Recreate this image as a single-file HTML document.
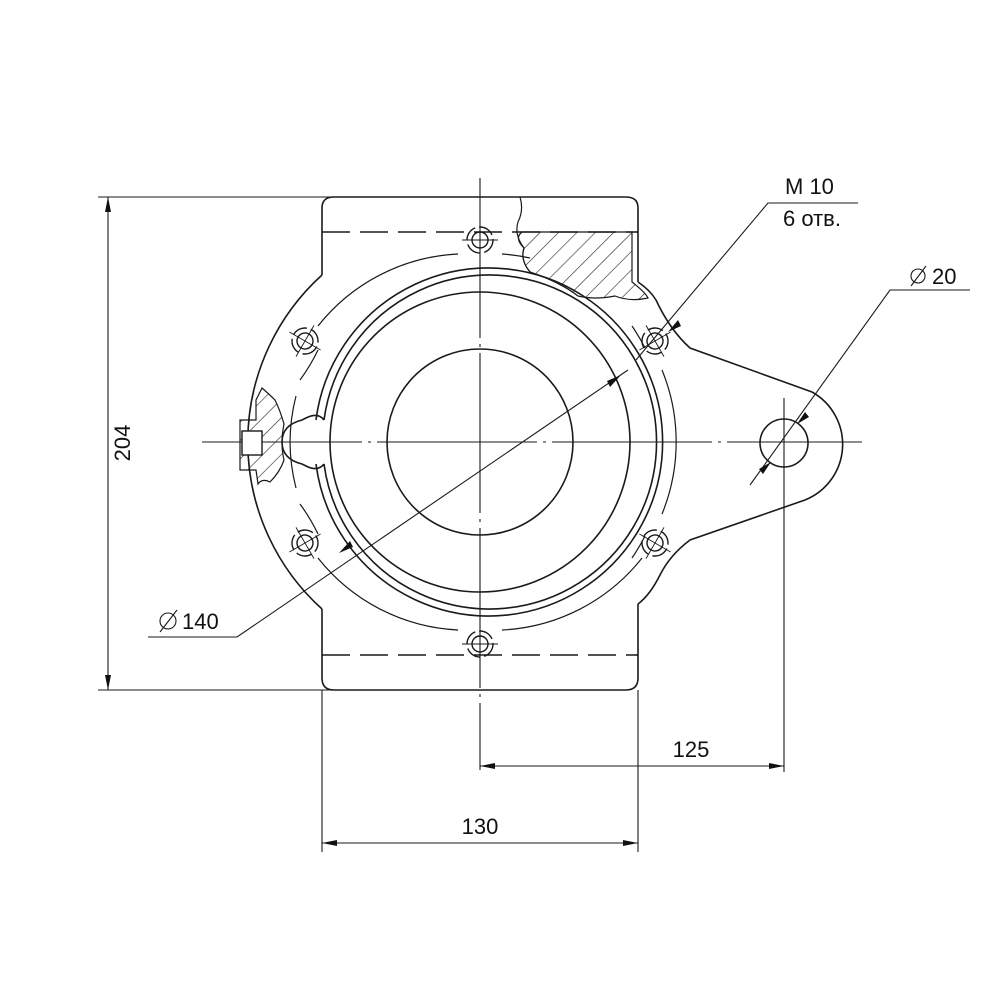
<!DOCTYPE html>
<html><head><meta charset="utf-8"><style>
html,body{margin:0;padding:0;background:#fff}
svg{display:block}
text{font-family:"Liberation Sans",sans-serif;fill:#111}
</style></head><body>
<svg width="1000" height="1000" viewBox="0 0 1000 1000" xmlns="http://www.w3.org/2000/svg">
<defs>
<pattern id="h" patternUnits="userSpaceOnUse" width="13" height="13" patternTransform="rotate(45)">
<line x1="0" y1="0" x2="0" y2="13" stroke="#222" stroke-width="1.2"/>
</pattern>
</defs>
<g fill="none" stroke="#1a1a1a" stroke-width="1.6">
<path d="M322,275 L322,208 Q322,197 334,197 L626,197 Q638,197 638,208 L638,282"/>
<path d="M322,609 L322,678 Q322,690 334,690 L626,690 Q638,690 638,678 L638,604"/>
<path d="M322,275 A225,225 0 0 0 322,609"/>
<path d="M638,282 Q650,290 656,300 Q670,330 690,348 L812,392 A60,60 0 0 1 805,500 L690,540 Q670,555 660,575 Q650,595 638,604"/>
<line x1="322" y1="232" x2="638" y2="232" stroke-dasharray="28,10"/>
<line x1="322" y1="655" x2="638" y2="655" stroke-dasharray="28,10"/>
<circle cx="480" cy="442" r="93"/>
<circle cx="480" cy="442" r="150"/>
<path d="M324,420 A167,167 0 1 1 324,464"/>
<path d="M316,420 A174,174 0 1 1 316,464"/>
<path d="M324,420 Q318,412 306,418 L302,420 Q282,425 282,442 Q282,459 302,464 L306,466 Q318,472 324,464"/>
<path d="M290,442 A190,190 0 0 1 296,396" stroke-width="1.2"/>
<path d="M290,442 A190,190 0 0 0 296,488" stroke-width="1.2"/>
<path d="M318,350 A190,190 0 0 1 300,380" stroke-width="1.2"/>
<path d="M318,534 A190,190 0 0 0 300,504" stroke-width="1.2"/>
<path d="M318,326 A190,190 0 0 1 458,254" stroke-width="1.2"/>
<path d="M502,254 A190,190 0 0 1 530,258" stroke-width="1.2"/>
<path d="M632,326 A190,190 0 0 1 645,348" stroke-width="1.2"/>
<path d="M662,370 A190,190 0 0 1 662,514" stroke-width="1.2"/>
<path d="M645,536 A190,190 0 0 1 632,558" stroke-width="1.2"/>
<path d="M318,558 A190,190 0 0 0 458,630" stroke-width="1.2"/>
<path d="M502,630 A190,190 0 0 0 642,558" stroke-width="1.2"/>
<circle cx="784" cy="443" r="24"/>
<path d="M520,197 Q524,210 518,222 Q514,235 524,248 Q520,260 530,272" stroke-width="1.2"/>
<line x1="480" y1="178" x2="480" y2="770" stroke-width="1.1" stroke-dasharray="160,6,3,6"/>
<line x1="202" y1="442" x2="862" y2="442" stroke-width="1.1" stroke-dasharray="160,6,3,6"/>
<line x1="784" y1="398" x2="784" y2="772" stroke-width="1.1"/>
</g>
<path d="M522,232 L632,232 L632,282 Q645,292 648,298 Q630,302 615,296 Q595,300 578,296 Q560,282 530,272 Q520,260 524,248 Q514,238 522,232 Z" fill="url(#h)" stroke="#1a1a1a" stroke-width="1.2"/>
<path d="M262,388 Q270,395 275,400 Q280,410 284,424 Q282,434 282,442 Q282,452 284,460 Q280,472 270,482 Q262,478 258,484 L256,470 L240,470 L240,420 L256,420 L256,400 Z" fill="url(#h)" stroke="#1a1a1a" stroke-width="1.2"/>
<rect x="242" y="431" width="20" height="24" fill="#fff" stroke="#1a1a1a" stroke-width="1.4"/>
<g fill="none" stroke="#1a1a1a" stroke-width="1.4">
<g transform="translate(480,240)"><circle r="8"/><circle r="13" stroke-dasharray="16,4"/><path d="M0,-18V18M-18,0H18" stroke-width="0.9"/></g>
<g transform="translate(480,644)"><circle r="8"/><circle r="13" stroke-dasharray="16,4"/><path d="M0,-18V18M-18,0H18" stroke-width="0.9"/></g>
<g transform="translate(305,341) rotate(30)"><circle r="8"/><circle r="13" stroke-dasharray="16,4"/><path d="M0,-18V18M-18,0H18" stroke-width="0.9"/></g>
<g transform="translate(655,341) rotate(-30)"><circle r="8"/><circle r="13" stroke-dasharray="16,4"/><path d="M0,-18V18M-18,0H18" stroke-width="0.9"/></g>
<g transform="translate(305,543) rotate(-30)"><circle r="8"/><circle r="13" stroke-dasharray="16,4"/><path d="M0,-18V18M-18,0H18" stroke-width="0.9"/></g>
<g transform="translate(655,543) rotate(30)"><circle r="8"/><circle r="13" stroke-dasharray="16,4"/><path d="M0,-18V18M-18,0H18" stroke-width="0.9"/></g>
</g>
<g fill="none" stroke="#1a1a1a" stroke-width="1.1">
<line x1="98" y1="197" x2="334" y2="197"/>
<line x1="98" y1="690" x2="334" y2="690"/>
<line x1="108" y1="197" x2="108" y2="690"/>
<line x1="322" y1="690" x2="322" y2="852"/>
<line x1="638" y1="690" x2="638" y2="852"/>
<line x1="322" y1="843" x2="638" y2="843"/>
<line x1="480" y1="766" x2="784" y2="766"/>
<polyline points="148,637 237,637 628,370"/>
<polyline points="858,203 768,203 636,360"/>
<polyline points="970,290 890,290 750,485"/>
<circle cx="168" cy="621" r="8"/><line x1="160" y1="632" x2="177" y2="610"/>
<circle cx="918" cy="276" r="7"/><line x1="911" y1="286" x2="926" y2="266"/>
</g>
<g fill="#111">
<polygon points="108,197 105,212 111,212"/>
<polygon points="108,690 105,675 111,675"/>
<polygon points="322,843 337,840 337,846"/>
<polygon points="638,843 623,840 623,846"/>
<polygon points="480,766 495,763 495,769"/>
<polygon points="784,766 769,763 769,769"/>
<polygon points="339,553 350,541 353,547"/>
<polygon points="621,375 610,387 607,381"/>
<polygon points="668,332 678,320 681,326"/>
<polygon points="797,424 805,412 809,417"/>
<polygon points="771,462 763,474 759,469"/>
</g>
<text x="130" y="443" font-size="22" transform="rotate(-90 130 443)" text-anchor="middle">204</text>
<text x="480" y="834" font-size="22" text-anchor="middle">130</text>
<text x="691" y="757" font-size="22" text-anchor="middle">125</text>
<text x="182" y="629" font-size="22">140</text>
<text x="785" y="194" font-size="22">M 10</text>
<text x="783" y="226" font-size="22">6 отв.</text>
<text x="932" y="284" font-size="22">20</text>
</svg>
</body></html>
